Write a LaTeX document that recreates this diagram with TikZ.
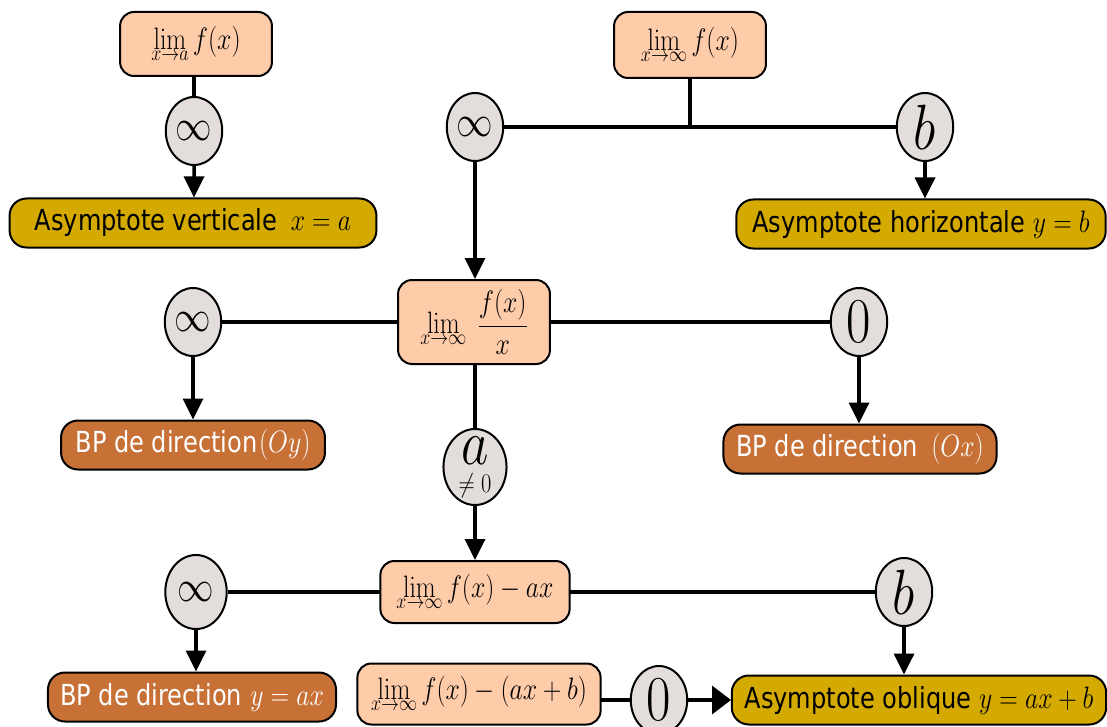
\RequirePackage{fix-cm}
\documentclass[tikz,border=0pt]{standalone}
\usepackage[no-math]{fontspec}
\newfontfamily\dv{DejaVu Sans}
\usetikzlibrary{arrows.meta}
\definecolor{peach}{HTML}{FFCCAA}
\definecolor{cgray}{HTML}{E3DEDB}
\definecolor{gold}{HTML}{D4AA00}
\definecolor{brownish}{HTML}{C87137}
\newcommand\mth[1]{{\fontsize{31}{36}\selectfont$#1$}}
\begin{document}
\begin{tikzpicture}[x=1pt,y=-1pt,
  sq/.style={xscale=0.83},
  lbox/.style={sq, draw, line width=2pt, fill=peach, rounded corners=14pt, inner sep=3pt,
    font=\fontsize{31}{36}\selectfont},
  gbox/.style={sq, draw, line width=2pt, fill=gold, rounded corners=17pt, minimum height=49pt,
    inner sep=2pt, font=\dv\fontsize{29}{34}\selectfont},
  bbox/.style={gbox, fill=brownish, text=white},
  circ/.style={sq, circle, draw, line width=2pt, fill=cgray, minimum size=68pt, inner sep=0pt},
  con/.style={line width=3.5pt},
  arr/.style={con, -{Triangle[width=20pt,length=21pt]}},
  harr/.style={con, -{Triangle[width=28pt,length=19pt]}}]
\useasboundingbox (0,0) rectangle (1107,727);
\clip (0,0) rectangle (1107,727);

% top left
\node[lbox, minimum width=183pt, minimum height=64pt] (limA) at (196,44) {$\displaystyle\lim_{x\to a} f(x)$};
\node[circ] (infA) at (194,131) {\fontsize{44}{44}\selectfont$\infty$};
\node[gbox, minimum width=442pt] (AV) at (193,223) {Asymptote verticale\hspace{16pt}\mth{x=a}};

% top right
\node[lbox, minimum width=183pt, minimum height=66pt] (limI) at (690,45) {$\displaystyle\lim_{x\to \infty} f(x)$};
\node[circ] (infB) at (475,127) {\fontsize{44}{44}\selectfont$\infty$};
\node[circ] (bB) at (925,127) {\fontsize{64}{64}\selectfont$b$};
\node[gbox, minimum width=445pt] (AH) at (921,224) {Asymptote horizontale \mth{y=b}};

% middle
\node[lbox, minimum width=183pt, minimum height=84pt] (lim2) at (474,322) {$\displaystyle\lim_{x\to \infty}\;\frac{f(x)}{x}$};
\node[circ] (inf2) at (193,322) {\fontsize{44}{44}\selectfont$\infty$};
\node[circ] (zero2) at (859,322) {\fontsize{64}{64}\selectfont$0$};
\node[bbox, minimum width=318pt] (BPy) at (193,445) {BP de direction\hspace{2pt}\mth{(Oy)}};
\node[bbox, minimum width=329pt] (BPx) at (860,449) {BP de direction\hspace{16pt}\mth{(Ox)}};
\node[circ, minimum size=76pt] (aC) at (475,467) {\shortstack{\fontsize{64}{64}\selectfont$a$\\[6pt]\fontsize{27}{27}\selectfont$\neq 0$}};

% lower
\node[lbox, minimum width=228pt, minimum height=62pt] (lim3) at (475,592) {$\displaystyle\lim_{x\to \infty} f(x)-ax$};
\node[circ, minimum size=74pt] (inf3) at (196,592) {\fontsize{44}{44}\selectfont$\infty$};
\node[circ] (b3) at (904,592) {\fontsize{64}{64}\selectfont$b$};
\node[bbox, minimum width=347pt] (BPax) at (192,697) {BP de direction\hspace{10pt}\mth{y=ax}};
\node[lbox, minimum width=293pt, minimum height=61pt] (lim4) at (479,694) {$\displaystyle\lim_{x\to \infty} f(x)-(ax+b)$};
\node[circ] (zero4) at (659,700) {\fontsize{64}{64}\selectfont$0$};
\node[gbox, minimum width=451pt] (AO) at (919,700) {Asymptote oblique \mth{y=ax+b}};

% connectors
\draw[con] (infA |- limA.south) -- (infA);
\draw[arr] (infA) -- (infA |- AV.north);
\draw[con] (limI.south) -- (limI.south |- infB.center);
\draw[con] (infB) -- (bB);
\draw[arr] (bB) -- (bB |- AH.north);
\draw[arr] (infB) -- (infB |- lim2.north);
\draw[con] (lim2) -- (inf2);
\draw[con] (lim2) -- (zero2);
\draw[arr] (inf2) -- (inf2 |- BPy.north);
\draw[arr] (zero2) -- (zero2 |- BPx.north);
\draw[con] (aC |- lim2.south) -- (aC);
\draw[arr] (aC) -- (aC |- lim3.north);
\draw[con] (lim3) -- (inf3);
\draw[con] (lim3) -- (b3);
\draw[arr] (inf3) -- (inf3 |- BPax.north);
\draw[arr] (b3) -- (b3 |- AO.north);
\draw[con] (lim4.east |- zero4) -- (zero4);
\draw[harr] (zero4) -- (AO);
\end{tikzpicture}
\end{document}
